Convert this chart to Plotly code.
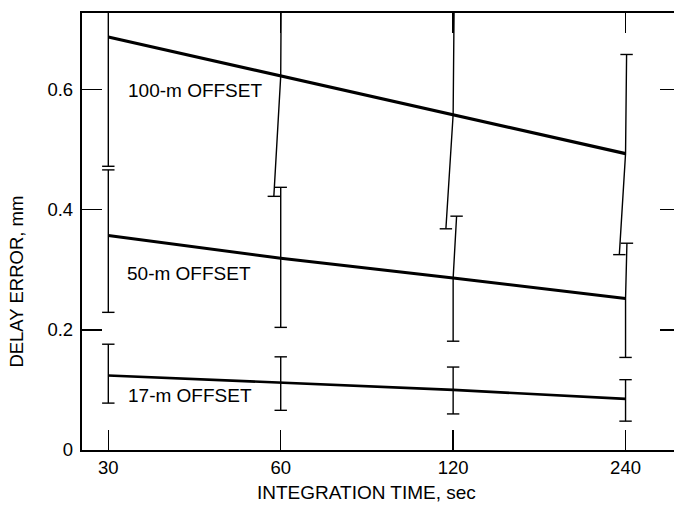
import plotly.graph_objects as go

# ---------------- data ----------------
time_labels = ["30", "60", "120", "240"]          # integration time, sec
series_names = ["100-m OFFSET", "50-m OFFSET", "17-m OFFSET"]

delay_100 = [0.687, 0.622, 0.558, 0.493]
upper_100 = [0.900, 0.820, 0.750, 0.658]
lower_100 = [0.472, 0.422, 0.368, 0.325]

delay_50 = [0.357, 0.319, 0.286, 0.252]
upper_50 = [0.466, 0.437, 0.389, 0.344]
lower_50 = [0.229, 0.204, 0.181, 0.154]

delay_17 = [0.124, 0.112, 0.100, 0.085]
upper_17 = [0.176, 0.155, 0.138, 0.117]
lower_17 = [0.078, 0.066, 0.060, 0.048]

y_ticks = [0, 0.2, 0.4, 0.6]
y_tick_text = ["0", "0.2", "0.4", "0.6"]

# ---------------- styling ----------------
FONT = "Liberation Sans, Arial, Helvetica, sans-serif"
INK = "#000000"
CAP = 0.036  # half cap width, category units
# slant of drawn error-bar ends (category units), as in the hand-drawn original
style = {
    "100": dict(width=3.2, up_shift=[0, 0.004, 0.006, 0.006], lo_shift=[0, -0.04, -0.042, -0.036]),
    "50": dict(width=3.0, up_shift=[0, 0, 0.02, 0.008], lo_shift=[0, 0, 0, 0]),
    "17": dict(width=2.6, up_shift=[0, 0, 0, 0], lo_shift=[0, 0, 0, 0]),
}
label_pos = {"100": (0.105, 0.598), "50": (0.098, 0.294), "17": (0.105, 0.090)}

xs = list(range(len(time_labels)))
series = [
    ("100", series_names[0], delay_100, upper_100, lower_100),
    ("50", series_names[1], delay_50, upper_50, lower_50),
    ("17", series_names[2], delay_17, upper_17, lower_17),
]

fig = go.Figure()

for key, name, c, u, l in series:
    st = style[key]
    ex, ey = [], []
    for i, x in enumerate(xs):
        xu = x + st["up_shift"][i]
        xl = x + st["lo_shift"][i]
        # upper cap
        ex += [xu - CAP, xu + CAP, None]
        ey += [u[i], u[i], None]
        # bar: upper end -> centre -> lower end
        ex += [xu, x, xl, None]
        ey += [u[i], c[i], l[i], None]
        # lower cap
        ex += [xl - CAP, xl + CAP, None]
        ey += [l[i], l[i], None]
    fig.add_trace(go.Scatter(x=ex, y=ey, mode="lines",
                             line=dict(color=INK, width=1.4),
                             showlegend=False, hoverinfo="skip"))
    fig.add_trace(go.Scatter(x=xs, y=c, mode="lines", name=name,
                             line=dict(color=INK, width=st["width"]),
                             showlegend=False))
    lx, ly = label_pos[key]
    fig.add_annotation(x=lx, y=ly, xref="x", yref="y", text=name,
                       showarrow=False, xanchor="left", yanchor="middle",
                       font=dict(family=FONT, size=19, color=INK))

# invisible trace for the right-hand tick axis
fig.add_trace(go.Scatter(x=[None], y=[None], yaxis="y2", showlegend=False))

Y_RANGE = [0, 0.727]
fig.update_layout(
    width=674, height=510,
    margin=dict(l=82, r=0, t=13, b=60),
    paper_bgcolor="white", plot_bgcolor="white",
    font=dict(family=FONT, size=18, color=INK),
    xaxis=dict(
        range=[-0.1526, 3.281], tickmode="array", tickvals=xs, ticktext=time_labels,
        showgrid=False, zeroline=False,
        showline=True, linecolor=INK, linewidth=2.2, mirror="ticks",
        ticks="inside", ticklen=20, tickwidth=1.5, tickcolor=INK,
        tickfont=dict(family=FONT, size=18.5, color=INK),
    ),
    yaxis=dict(
        range=Y_RANGE, tickmode="array", tickvals=y_ticks, ticktext=y_tick_text,
        showgrid=False, zeroline=False,
        showline=True, linecolor=INK, linewidth=2.2,
        ticks="inside", ticklen=20, tickwidth=1.5, tickcolor=INK,
        tickfont=dict(family=FONT, size=18.5, color=INK),
        ticklabelstandoff=3,
    ),
    yaxis2=dict(
        overlaying="y", side="right", range=Y_RANGE,
        tickmode="array", tickvals=y_ticks[1:], showticklabels=False,
        showgrid=False, zeroline=False, showline=False,
        ticks="inside", ticklen=14, tickwidth=1.5, tickcolor=INK,
    ),
)

fig.add_annotation(x=0.4814, y=-0.098, xref="paper", yref="paper",
                   text="INTEGRATION TIME, sec", showarrow=False,
                   xanchor="center", yanchor="middle",
                   font=dict(family=FONT, size=19, color=INK))
fig.add_annotation(x=-0.1098, y=0.3853, xref="paper", yref="paper",
                   text="DELAY ERROR, mm", showarrow=False, textangle=-90,
                   xanchor="center", yanchor="middle",
                   font=dict(family=FONT, size=18.5, color=INK))

fig.write_html("out.html",
               config={"displayModeBar": False, "staticPlot": True},
               post_script="document.body.style.margin='0px';document.body.style.overflow='hidden';")
